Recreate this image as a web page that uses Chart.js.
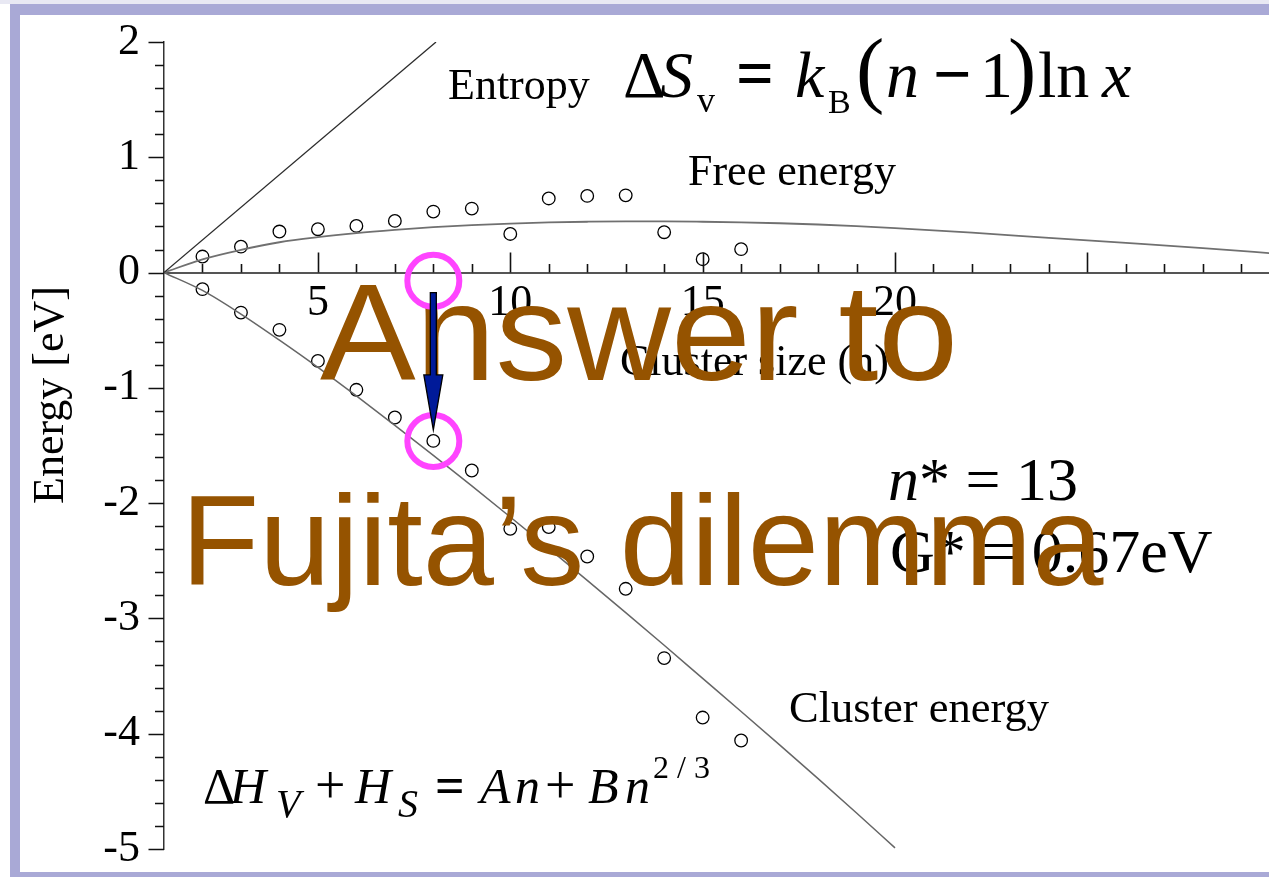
<!DOCTYPE html>
<html>
<head>
<meta charset="utf-8">
<title>Cluster free energy</title>
<script src="https://cdn.jsdelivr.net/npm/chart.js@4.4.1/dist/chart.umd.min.js"></script>
<style>
  html, body { margin: 0; padding: 0; background: #fff; overflow: hidden; }
  #wrap { position: relative; width: 1269px; height: 877px; }
  .band { position: absolute; background: #a9a9d6; }
  canvas { position: absolute; left: 0; top: 0; }
</style>
</head>
<body>
<div id="wrap">
  <div class="band" style="left:0;top:0;width:1269px;height:4px;background:#e8e8f3"></div>
  <div class="band" style="left:10px;top:4px;width:1259px;height:11px"></div>
  <div class="band" style="left:10px;top:4px;width:10px;height:873px"></div>
  <div class="band" style="left:10px;top:872px;width:1259px;height:5px"></div>
  <canvas id="c" width="1269" height="877"></canvas>
</div>
<script>
// Cluster sizes with calculated energies (eV)
const clusterSizes = [2, 3, 4, 5, 6, 7, 8, 9, 10, 11, 12, 13, 14, 15, 16];
const freeEnergyPoints = [0.139, 0.225, 0.356, 0.376, 0.405, 0.448, 0.529, 0.555, 0.335, 0.643, 0.665, 0.67, 0.350, 0.116, 0.203];
const clusterEnergyPoints = [-0.144, -0.347, -0.497, -0.766, -1.017, -1.257, -1.46, -1.717, -2.223, -2.208, -2.463, -2.743, -3.344, -3.86, -4.059];

// Model curves
const freeCurveN = [1, 2, 3, 4, 5, 6, 7, 8, 9, 10, 11, 12, 13, 14, 15, 16, 17, 18, 19, 20, 22, 24, 26, 28, 30];
const freeCurveE = [0, 0.115, 0.197, 0.263, 0.307, 0.342, 0.370, 0.394, 0.412, 0.425, 0.435, 0.441, 0.444, 0.444, 0.441, 0.436, 0.428, 0.417, 0.403, 0.386, 0.346, 0.301, 0.257, 0.212, 0.162];
const clusterCurveN = [1, 2, 3, 4, 5, 6, 7, 8, 9, 10, 11, 12, 13, 14, 15, 16, 17, 18, 19, 20];
const clusterCurveE = [0, -0.155, -0.36, -0.586, -0.822, -1.07, -1.325, -1.585, -1.85, -2.12, -2.393, -2.67, -2.95, -3.233, -3.52, -3.807, -4.097, -4.39, -4.688, -4.99];
const entropyN = [1, 8.07];
const entropyE = [0, 2];

// Axis ranges and labelled ticks
const xRange = [1, 29.72];
const yRange = [-5, 2];
const xLabelValues = [5, 10, 15, 20];
const highlightN = 8;

const SERIF = '"Liberation Serif", "Times New Roman", serif';
const SANS = '"Liberation Sans", Arial, sans-serif';

const toXY = (xs, ys) => xs.map((x, i) => ({ x: x, y: ys[i] }));

function txt(ctx, s, x, y, o) {
  o = o || {};
  const size = o.size || 44;
  ctx.save();
  ctx.font = (o.italic ? 'italic ' : '') + (o.bold ? 'bold ' : '') + size + 'px ' + (o.family || SERIF);
  ctx.fillStyle = o.color || '#000';
  ctx.textAlign = o.align || 'left';
  ctx.textBaseline = 'alphabetic';
  ctx.translate(x, y);
  ctx.scale(o.sx || 1, o.sy || 1);
  ctx.fillText(s, 0, 0);
  ctx.restore();
}

// Inward tick marks: integers on n, 0.2 eV on energy
const tickMarks = {
  id: 'tickMarks',
  afterDatasetsDraw(chart) {
    const { ctx, scales: { x, y } } = chart;
    const y0 = y.getPixelForValue(0);
    const xAxis = chart.chartArea.left;
    ctx.save();
    ctx.strokeStyle = '#111';
    ctx.lineWidth = 1.6;
    ctx.beginPath();
    for (let n = Math.ceil(xRange[0]) + 1; n <= Math.floor(xRange[1]); n++) {
      const px = Math.round(x.getPixelForValue(n)) + 0.5;
      const len = n % 5 === 0 ? 20 : 8.5;
      ctx.moveTo(px, y0);
      ctx.lineTo(px, y0 - len);
    }
    for (let k = yRange[0] * 5; k <= yRange[1] * 5; k++) {
      const py = Math.round(y.getPixelForValue(k / 5)) + 0.5;
      const len = k % 5 === 0 ? 15.5 : 9;
      ctx.moveTo(xAxis, py);
      ctx.lineTo(xAxis - len, py);
    }
    ctx.stroke();
    ctx.restore();
  }
};

// Labels, formulas and highlight marks
const annotations = {
  id: 'annotations',
  afterDraw(chart) {
    const { ctx, scales: { x, y } } = chart;

    ctx.save();
    ctx.translate(63, 395);
    ctx.rotate(-Math.PI / 2);
    txt(ctx, 'Energy [eV]', 0, 0, { size: 44, align: 'center' });
    ctx.restore();

    txt(ctx, 'Cluster size (n)', 620, 375, { size: 44 });
    txt(ctx, 'Entropy', 448, 99, { size: 44 });
    txt(ctx, 'Free energy', 688, 185, { size: 44 });
    txt(ctx, 'Cluster energy', 789, 722, { size: 44.5 });

    // ΔSv = kB(n−1) ln x
    txt(ctx, 'Δ', 623, 97, { size: 66 });
    txt(ctx, 'S', 660, 97, { size: 66, italic: true });
    txt(ctx, 'v', 697, 112, { size: 36 });
    txt(ctx, '=', 736, 97, { size: 70, bold: true, sx: 0.95 });
    txt(ctx, 'k', 795, 97, { size: 66, italic: true });
    txt(ctx, 'B', 828, 113, { size: 34 });
    txt(ctx, '(', 856, 97, { size: 85 });
    txt(ctx, 'n', 886, 97, { size: 66, italic: true });
    txt(ctx, '−', 933, 97, { size: 68, bold: true });
    txt(ctx, '1', 980, 97, { size: 66 });
    txt(ctx, ')', 1008, 97, { size: 85 });
    txt(ctx, 'ln', 1038, 97, { size: 66 });
    txt(ctx, 'x', 1102, 97, { size: 66, italic: true });

    // ΔHV + HS = An + Bn^(2/3)
    txt(ctx, 'Δ', 203, 803, { size: 50 });
    txt(ctx, 'H', 230, 803, { size: 50, italic: true });
    txt(ctx, 'V', 276, 817, { size: 40, italic: true });
    txt(ctx, '+', 315, 803, { size: 54 });
    txt(ctx, 'H', 355, 803, { size: 50, italic: true });
    txt(ctx, 'S', 398, 817, { size: 40, italic: true });
    txt(ctx, '=', 435, 803, { size: 52, bold: true });
    txt(ctx, 'A', 480, 803, { size: 50, italic: true });
    txt(ctx, 'n', 515, 803, { size: 50, italic: true });
    txt(ctx, '+', 545, 803, { size: 54 });
    txt(ctx, 'B', 588, 803, { size: 50, italic: true });
    txt(ctx, 'n', 625, 803, { size: 50, italic: true });
    txt(ctx, '2 / 3', 653, 778, { size: 32 });

    // Critical nucleus
    txt(ctx, 'n', 888, 500, { size: 62, italic: true });
    txt(ctx, '* = 13', 919, 500, { size: 62 });
    txt(ctx, 'G* = 0.67eV', 890, 572, { size: 62 });

    // Title overlay
    const brown = '#955300';
    txt(ctx, 'Answer to', 320, 380, { size: 138, family: SANS, color: brown, sx: 1.04 });
    txt(ctx, 'Fujita’s dilemma', 181, 585, { size: 128, family: SANS, color: brown });

    // Highlight rings at n = 8
    const px = x.getPixelForValue(highlightN);
    const lowIdx = clusterSizes.indexOf(highlightN);
    const topY = y.getPixelForValue(-0.07);
    const lowY = y.getPixelForValue(clusterEnergyPoints[lowIdx]);
    ctx.save();
    ctx.strokeStyle = '#ff44ff';
    ctx.lineWidth = 6;
    [topY, lowY].forEach(cy => {
      ctx.beginPath();
      ctx.arc(px, cy, 26, 0, Math.PI * 2);
      ctx.stroke();
    });

    // Arrow between the rings
    const a0 = topY + 12, aHead = lowY - 66, aTip = lowY - 11;
    ctx.beginPath();
    ctx.moveTo(px - 3, a0);
    ctx.lineTo(px + 3, a0);
    ctx.lineTo(px + 3, aHead);
    ctx.lineTo(px + 9.5, aHead);
    ctx.lineTo(px, aTip);
    ctx.lineTo(px - 9.5, aHead);
    ctx.lineTo(px - 3, aHead);
    ctx.closePath();
    ctx.fillStyle = '#001a99';
    ctx.fill();
    ctx.strokeStyle = '#000';
    ctx.lineWidth = 1.3;
    ctx.stroke();
    ctx.restore();
  }
};

function build() {
  const tickFont = { family: SERIF, size: 44 };
  new Chart(document.getElementById('c'), {
    type: 'scatter',
    data: {
      datasets: [
        { type: 'line', label: 'Entropy', data: toXY(entropyN, entropyE),
          borderColor: '#2b2b2b', borderWidth: 1.3, pointRadius: 0, tension: 0 },
        { type: 'line', label: 'Free energy', data: toXY(freeCurveN, freeCurveE),
          borderColor: '#707070', borderWidth: 1.8, pointRadius: 0, cubicInterpolationMode: 'monotone' },
        { type: 'line', label: 'Cluster energy', data: toXY(clusterCurveN, clusterCurveE),
          borderColor: '#666666', borderWidth: 1.5, pointRadius: 0, cubicInterpolationMode: 'monotone' },
        { type: 'scatter', label: 'Free energy (calc.)', data: toXY(clusterSizes, freeEnergyPoints),
          pointRadius: 6.3, borderWidth: 1.3, borderColor: '#000', backgroundColor: 'rgba(0,0,0,0)' },
        { type: 'scatter', label: 'Cluster energy (calc.)', data: toXY(clusterSizes, clusterEnergyPoints),
          pointRadius: 6.3, borderWidth: 1.3, borderColor: '#000', backgroundColor: 'rgba(0,0,0,0)' }
      ]
    },
    options: {
      responsive: false,
      animation: false,
      devicePixelRatio: 1,
      layout: { autoPadding: false, padding: { left: 0, right: 0, top: 42, bottom: 28 } },
      plugins: { legend: { display: false }, tooltip: { enabled: false } },
      scales: {
        x: {
          type: 'linear', position: { y: 0 }, min: xRange[0], max: xRange[1],
          afterFit(s) { s.height = 0; s.paddingLeft = 0; s.paddingRight = 0; s.paddingTop = 0; s.paddingBottom = 0; },
          grid: { display: false, drawTicks: false },
          border: { display: true, color: '#555', width: 2 },
          ticks: {
            stepSize: 5, autoSkip: false, maxRotation: 0, padding: 4, color: '#000', font: tickFont,
            callback: v => xLabelValues.includes(v) ? String(v) : ''
          }
        },
        y: {
          type: 'linear', position: 'left', min: yRange[0], max: yRange[1],
          afterFit(s) { s.width = 164; s.paddingLeft = 0; s.paddingRight = 0; s.paddingTop = 0; s.paddingBottom = 0; },
          grid: { display: false, drawTicks: false },
          border: { display: true, color: '#333', width: 1.5 },
          ticks: { stepSize: 1, padding: 24, color: '#000', font: tickFont }
        }
      }
    },
    plugins: [tickMarks, annotations]
  });
}

const fontLoads = [
  '44px "Liberation Serif"', 'italic 44px "Liberation Serif"', 'bold 44px "Liberation Serif"', '130px "Liberation Sans"'
].map(f => document.fonts.load(f));
Promise.all(fontLoads).then(build, build);
</script>
</body>
</html>
